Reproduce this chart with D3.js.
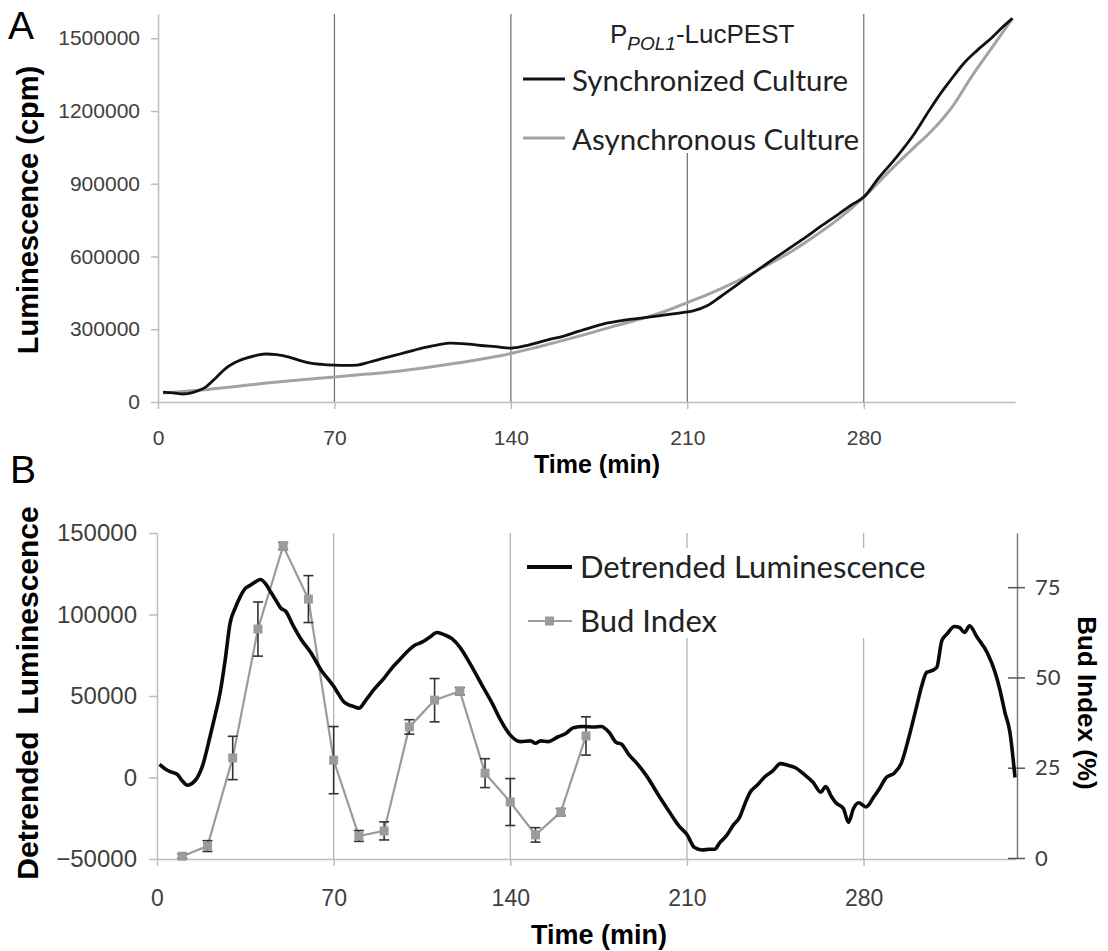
<!DOCTYPE html>
<html>
<head>
<meta charset="utf-8">
<script src="https://cdn.jsdelivr.net/npm/d3@7"></script>
<style>
  body { margin: 0; background: #fff; }
  svg { display: block; font-family: "Liberation Sans", Arial, sans-serif; }
  .tick text { fill: #404040; }
</style>
</head>
<body>
<svg id="chart" width="1108" height="951"></svg>
<script>
// ---- data ----
const timeTicks = [0, 70, 140, 210, 280];
const lumTicks = [0, 300000, 600000, 900000, 1200000, 1500000];
const detTicks = [-50000, 0, 50000, 100000, 150000];
const budTicks = [0, 25, 50, 75];

// Panel A: synchronized culture
const syncTime = [2, 6, 10, 14, 19, 23, 27, 30, 35, 39, 43, 47, 52, 56, 60, 65, 70, 75, 79, 84, 90, 96, 101, 106, 111, 116, 122, 128, 134, 140, 145, 150, 155, 161, 167, 173, 178, 184, 190, 196, 202, 208, 212, 218, 223, 230, 238, 245, 251, 257, 263, 270, 275, 280, 286, 293, 300, 306, 311, 315, 320, 325, 331, 335, 339];
const syncLum  = [41000, 38000, 33000, 40000, 62000, 100000, 140000, 160000, 181000, 192000, 198000, 195000, 185000, 172000, 161000, 155000, 152000, 151000, 152000, 165000, 182000, 198000, 212000, 225000, 236000, 243000, 240000, 233000, 228000, 222000, 230000, 243000, 257000, 272000, 292000, 311000, 325000, 336000, 344000, 352000, 360000, 369000, 375000, 398000, 433000, 485000, 545000, 595000, 638000, 680000, 725000, 775000, 812000, 845000, 925000, 1010000, 1105000, 1203000, 1280000, 1335000, 1400000, 1450000, 1504000, 1545000, 1582000];

// Panel A: asynchronous culture
const asyncTime = [2, 10, 17, 30, 43, 56, 70, 83, 96, 110, 125, 140, 150, 160, 170, 180, 194, 200, 210, 220, 230, 238, 250, 260, 270, 280, 290, 300, 306, 315, 323, 331, 339];
const asyncLum  = [37000, 43000, 49000, 63000, 78000, 91000, 103000, 115000, 128000, 147000, 171000, 200000, 225000, 252000, 280000, 310000, 350000, 370000, 410000, 452000, 500000, 544000, 612000, 680000, 755000, 845000, 950000, 1050000, 1108000, 1216000, 1345000, 1463000, 1582000];

// Panel B: detrended luminescence
const detTime = [1, 3, 5, 8, 10, 12, 14, 16, 18, 21, 23, 25, 27, 29, 31, 33, 35, 37, 39, 41, 43, 45, 47, 49, 51, 54, 57, 61, 65, 68, 70, 72, 74, 76, 78, 80, 83, 86, 90, 93, 96, 99, 102, 105, 108, 111, 114, 117, 120, 124, 129, 133, 136, 140, 144, 148, 150, 152, 155, 159, 162, 165, 169, 173, 176, 179, 182, 184, 187, 190, 194, 199, 203, 207, 210, 213, 216, 219, 221, 223, 226, 228, 231, 233, 235, 238, 241, 244, 247, 250, 253, 256, 260, 263, 265, 267, 269, 272, 274, 276, 278, 281, 284, 286, 289, 292, 295, 298, 301, 303, 305, 307, 309, 311, 313, 316, 318, 320, 322, 325, 329, 332, 334, 336, 338, 340];
const detLum  = [8000, 5500, 3700, 2000, -2000, -4800, -3500, 0, 7000, 25000, 38000, 52000, 72000, 95000, 104000, 111000, 116000, 118000, 120000, 121500, 119000, 114000, 109000, 104000, 102000, 93000, 85000, 76500, 66000, 60000, 56000, 51000, 46500, 44500, 43500, 42500, 48000, 54000, 61000, 67000, 72000, 77000, 81000, 83000, 86000, 89000, 87500, 85000, 80000, 70000, 56000, 45000, 35600, 26000, 22000, 22500, 21000, 22500, 22000, 25000, 27000, 30500, 31300, 31000, 31300, 28000, 21500, 20500, 14000, 9000, 1000, -11500, -21000, -30000, -35000, -43000, -44500, -44000, -44000, -40000, -35000, -30000, -24000, -16000, -9200, -4500, 600, 4000, 8500, 7500, 6000, 2500, -3000, -9000, -5500, -11000, -15500, -19000, -27500, -19000, -15500, -18000, -12000, -7500, 0, 2500, 9000, 25000, 43500, 56000, 64500, 65500, 67500, 84000, 88000, 92600, 92000, 89000, 93000, 86000, 76500, 65000, 54000, 40000, 27600, 0];

// Panel B: bud index (%) with error
const budTime  = [10, 20, 30, 40, 50, 60, 70, 80, 90, 100, 110, 120, 130, 140, 150, 160, 170];
const budIndex = [0.5, 3.3, 27.7, 63.4, 86.4, 71.7, 27.1, 6.1, 7.5, 36.3, 43.7, 46.2, 23.5, 15.5, 6.4, 12.7, 33.8];
const budErr   = [0.6, 1.5, 6, 7.5, 1, 6.5, 9.3, 1.5, 2.5, 2, 6, 1, 4, 6.5, 2, 1, 5.3];

const svg = d3.select("#chart");
const axisFont = "'Liberation Sans', Arial, sans-serif";
const legendFont = "Lato, 'Open Sans', sans-serif";
const fmt = d3.format("d");

// =================== Panel A ===================
const xA = d3.scaleLinear().domain([0, 340]).range([158, 1015]);
const yA = d3.scaleLinear().domain([0, 1600000]).range([402, 14]);

const gA = svg.append("g");

// vertical lines
gA.selectAll(".vA")
    .data(timeTicks.slice(1))
    .enter().append("line")
    .attr("x1", d => xA(d)).attr("x2", d => xA(d))
    .attr("y1", yA(1600000)).attr("y2", yA(0))
    .attr("stroke", "#6e6e6e").attr("stroke-width", 1.2);

// legend background hides part of the grid
gA.append("rect").attr("x", 518).attr("y", 0).attr("width", 342).attr("height", 153).attr("fill", "#fff");

gA.append("g")
    .attr("transform", "translate(0," + yA(0) + ")")
    .call(d3.axisBottom(xA).tickValues(timeTicks).tickSize(7).tickSizeOuter(0).tickPadding(21))
    .attr("font-family", axisFont)
    .call(g => g.select(".domain").attr("stroke", "#bdbdbd").attr("stroke-width", 1.5))
    .call(g => g.selectAll(".tick line").attr("stroke", "#bdbdbd").attr("stroke-width", 1.5))
    .call(g => g.selectAll(".tick text").attr("font-size", 21));

gA.append("g")
    .attr("transform", "translate(" + xA(0) + ",0)")
    .call(d3.axisLeft(yA).tickValues(lumTicks).tickFormat(fmt).tickSize(7).tickSizeOuter(0).tickPadding(11))
    .attr("font-family", axisFont)
    .call(g => g.select(".domain").attr("stroke", "#bdbdbd").attr("stroke-width", 1.5))
    .call(g => g.selectAll(".tick line").attr("stroke", "#bdbdbd").attr("stroke-width", 1.5))
    .call(g => g.selectAll(".tick text").attr("font-size", 21));

const lineA = d3.line().curve(d3.curveMonotoneX);

gA.append("path")
    .attr("d", lineA(asyncTime.map((t, i) => [xA(t), yA(asyncLum[i])])))
    .attr("fill", "none").attr("stroke", "#a3a3a3").attr("stroke-width", 3);

gA.append("path")
    .attr("d", lineA(syncTime.map((t, i) => [xA(t), yA(syncLum[i])])))
    .attr("fill", "none").attr("stroke", "#111").attr("stroke-width", 2.8);

// labels
svg.append("text").attr("x", 8).attr("y", 39).attr("font-size", 39).text("A");
svg.append("text")
    .attr("transform", "translate(38,210) rotate(-90)")
    .attr("text-anchor", "middle").attr("font-size", 29).attr("font-weight", "bold")
    .text("Luminescence (cpm)");
svg.append("text")
    .attr("x", 597).attr("y", 473)
    .attr("text-anchor", "middle").attr("font-size", 25).attr("font-weight", "bold")
    .text("Time (min)");

// legend A
const title = gA.append("text").attr("x", 610).attr("y", 43).attr("font-size", 26).attr("fill", "#222");
title.append("tspan").text("P");
title.append("tspan").attr("font-size", 19).attr("font-style", "italic").attr("dy", 7).text("POL1");
title.append("tspan").attr("dy", -7).text("-LucPEST");

const legA = [
  {name: "Synchronized Culture", color: "#111", y: 79},
  {name: "Asynchronous Culture", color: "#a3a3a3", y: 138}
];
legA.forEach(d => {
  gA.append("line").attr("x1", 523).attr("x2", 565).attr("y1", d.y).attr("y2", d.y)
    .attr("stroke", d.color).attr("stroke-width", 3);
  gA.append("text").attr("x", 572).attr("y", d.y + 12)
    .attr("font-family", legendFont).attr("font-size", 29.5).attr("fill", "#222")
    .text(d.name);
});

// =================== Panel B ===================
const xB = d3.scaleLinear().domain([0, 340]).range([157, 1015]);
const yL = d3.scaleLinear().domain([-50000, 150000]).range([859, 533]);
const yR = d3.scaleLinear().domain([0, 90]).range([858, 533]);

const gB = svg.append("g");

gB.selectAll(".vB")
    .data(timeTicks.slice(1))
    .enter().append("line")
    .attr("x1", d => xB(d)).attr("x2", d => xB(d))
    .attr("y1", yL(150000)).attr("y2", yL(-50000))
    .attr("stroke", "#b3b3b3").attr("stroke-width", 1.3);

gB.append("rect").attr("x", 518).attr("y", 548).attr("width", 422).attr("height", 90).attr("fill", "#fff");

gB.append("g")
    .attr("transform", "translate(0," + yL(-50000) + ")")
    .call(d3.axisBottom(xB).tickValues(timeTicks).tickSize(7).tickSizeOuter(0).tickPadding(24))
    .attr("font-family", axisFont)
    .call(g => g.select(".domain").attr("stroke", "#bdbdbd").attr("stroke-width", 1.5))
    .call(g => g.selectAll(".tick line").attr("stroke", "#bdbdbd").attr("stroke-width", 1.5))
    .call(g => g.selectAll(".tick text").attr("font-size", 23));

gB.append("g")
    .attr("transform", "translate(" + xB(0) + ",0)")
    .call(d3.axisLeft(yL).tickValues(detTicks).tickFormat(fmt).tickSize(8).tickSizeOuter(0).tickPadding(12))
    .attr("font-family", axisFont)
    .call(g => g.select(".domain").attr("stroke", "#bdbdbd").attr("stroke-width", 1.5))
    .call(g => g.selectAll(".tick line").attr("stroke", "#bdbdbd").attr("stroke-width", 1.5))
    .call(g => g.selectAll(".tick text").attr("font-size", 24));

gB.append("g")
    .attr("transform", "translate(1017,0)")
    .call(d3.axisRight(yR).tickValues(budTicks).tickSize(8).tickSizeOuter(0).tickPadding(10))
    .attr("font-family", legendFont)
    .call(g => g.select(".domain").attr("stroke", "#7a7a7a").attr("stroke-width", 1.5))
    .call(g => g.selectAll(".tick line").attr("x1", -9).attr("stroke", "#555").attr("stroke-width", 1.5))
    .call(g => g.selectAll(".tick text").attr("font-size", 22));

// bud index
const budG = gB.append("g");
budG.append("path")
    .attr("d", d3.line()(budTime.map((t, i) => [xB(t), yR(budIndex[i])])))
    .attr("fill", "none").attr("stroke", "#9b9b9b").attr("stroke-width", 2.2);

const eb = budG.selectAll(".err").data(budTime).enter().append("g").attr("stroke", "#333").attr("stroke-width", 1.6);
eb.append("line")
    .attr("x1", d => xB(d)).attr("x2", d => xB(d))
    .attr("y1", (d, i) => yR(budIndex[i] - budErr[i])).attr("y2", (d, i) => yR(budIndex[i] + budErr[i]));
eb.append("line")
    .attr("x1", d => xB(d) - 5).attr("x2", d => xB(d) + 5)
    .attr("y1", (d, i) => yR(budIndex[i] - budErr[i])).attr("y2", (d, i) => yR(budIndex[i] - budErr[i]));
eb.append("line")
    .attr("x1", d => xB(d) - 5).attr("x2", d => xB(d) + 5)
    .attr("y1", (d, i) => yR(budIndex[i] + budErr[i])).attr("y2", (d, i) => yR(budIndex[i] + budErr[i]));

budG.selectAll(".mk").data(budTime).enter().append("rect")
    .attr("x", d => xB(d) - 4.5).attr("y", (d, i) => yR(budIndex[i]) - 4.5)
    .attr("width", 9).attr("height", 9).attr("fill", "#9b9b9b");

// detrended luminescence
gB.append("path")
    .attr("d", d3.line().curve(d3.curveMonotoneX)(detTime.map((t, i) => [xB(t), yL(detLum[i])])))
    .attr("fill", "none").attr("stroke", "#0a0a0a").attr("stroke-width", 3.6).attr("stroke-linejoin", "round");

// labels
svg.append("text").attr("x", 10).attr("y", 483).attr("font-size", 39).text("B");
svg.append("text")
    .attr("transform", "translate(38,693) rotate(-90)")
    .attr("text-anchor", "middle").attr("font-size", 30).attr("font-weight", "bold")
    .style("white-space", "pre")
    .text("Detrended  Luminescence");
svg.append("text")
    .attr("transform", "translate(1078,703) rotate(90)")
    .attr("text-anchor", "middle").attr("font-size", 26).attr("font-weight", "bold")
    .text("Bud Index (%)");
svg.append("text")
    .attr("x", 599).attr("y", 944)
    .attr("text-anchor", "middle").attr("font-size", 27).attr("font-weight", "bold")
    .text("Time (min)");

// legend B
gB.append("line").attr("x1", 527).attr("x2", 572).attr("y1", 567).attr("y2", 567)
    .attr("stroke", "#0a0a0a").attr("stroke-width", 4);
gB.append("text").attr("x", 580).attr("y", 578)
    .attr("font-family", legendFont).attr("font-size", 31).attr("fill", "#222")
    .text("Detrended Luminescence");
gB.append("line").attr("x1", 528).attr("x2", 572).attr("y1", 621).attr("y2", 621)
    .attr("stroke", "#9b9b9b").attr("stroke-width", 2.2);
gB.append("rect").attr("x", 545).attr("y", 616.5).attr("width", 9).attr("height", 9).attr("fill", "#9b9b9b");
gB.append("text").attr("x", 580).attr("y", 632)
    .attr("font-family", legendFont).attr("font-size", 31).attr("fill", "#222")
    .text("Bud Index");
</script>
</body>
</html>
